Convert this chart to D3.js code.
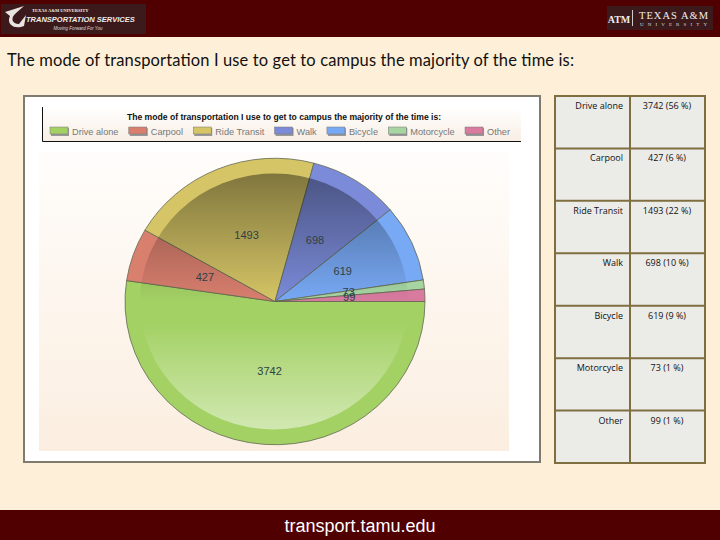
<!DOCTYPE html>
<html>
<head>
<meta charset="utf-8">
<script src="https://cdn.jsdelivr.net/npm/d3@7"></script>
<style>
  html, body { margin: 0; padding: 0; background: #fef0d8; }
  svg { display: block; }
</style>
</head>
<body>
<script>
const categories = ['Drive alone', 'Carpool', 'Ride Transit', 'Walk', 'Bicycle', 'Motorcycle', 'Other'];
const values = [3742, 427, 1493, 698, 619, 73, 99];
const percents = [56, 6, 22, 10, 9, 1, 1];
const colors = ['#a3d164', '#d97f6e', '#d5c566', '#7b8bd9', '#78a9f5', '#a6d5a2', '#d87b9e'];
const title = 'The mode of transportation I use to get to campus the majority of the time is:';

const maroon = '#500000';
const svg = d3.select('body').append('svg').attr('width', 720).attr('height', 540);
const defs = svg.append('defs');

function gradient(id, stops) {
  const g = defs.append('linearGradient').attr('id', id)
    .attr('x1', 0).attr('y1', 0).attr('x2', 0).attr('y2', 1);
  stops.forEach(s => g.append('stop').attr('offset', s[0])
    .attr('stop-color', s[1]).attr('stop-opacity', s[2]));
}
gradient('plotBg', [[0, '#fffdfb', 1], [1, '#fbeee0', 1]]);
gradient('legendBg', [[0, '#ffffff', 1], [1, '#f8eee4', 1]]);
gradient('gloss', [[0, '#000000', 0.4], [0.5, '#000000', 0], [0.58, '#ffffff', 0], [1, '#ffffff', 0.5]]);

// header and footer
svg.append('rect').attr('width', 720).attr('height', 37).attr('fill', maroon);
svg.append('rect').attr('y', 510).attr('width', 720).attr('height', 30).attr('fill', maroon);
svg.append('text').attr('x', 360).attr('y', 532).attr('text-anchor', 'middle')
  .attr('font-family', 'Liberation Sans').attr('font-size', 18).attr('fill', '#fff')
  .text('transport.tamu.edu');

// left logo
const logoL = svg.append('g');
logoL.append('rect').attr('x', 1).attr('y', 4).attr('width', 145).attr('height', 30).attr('fill', '#3c1a1c');
logoL.append('path').attr('d', 'M5 12 L24 6 L16 13 C10 18 12 24 19 24 L26 15 L24 26 C14 30 6 24 10 16 Z')
  .attr('fill', '#e8e4e0');
logoL.append('text').attr('x', 32).attr('y', 12).attr('font-family', 'Liberation Serif')
  .attr('font-size', 4.5).attr('font-weight', 'bold').attr('fill', '#eee').text('TEXAS A&M UNIVERSITY');
logoL.append('text').attr('x', 26).attr('y', 22).attr('font-family', 'Liberation Sans')
  .attr('font-size', 7.5).attr('font-style', 'italic').attr('font-weight', 'bold').attr('fill', '#eee')
  .text('TRANSPORTATION SERVICES');
logoL.append('text').attr('x', 78).attr('y', 30).attr('text-anchor', 'middle').attr('font-family', 'Liberation Sans')
  .attr('font-size', 4.5).attr('font-style', 'italic').attr('fill', '#ddd').text('Moving Forward For You');

// right logo
const logoR = svg.append('g');
logoR.append('rect').attr('x', 607).attr('y', 6).attr('width', 106).attr('height', 24).attr('fill', '#3c1a1c');
logoR.append('text').attr('x', 619).attr('y', 23).attr('text-anchor', 'middle').attr('font-family', 'Liberation Serif')
  .attr('font-size', 10).attr('font-weight', 'bold').attr('fill', '#eee').text('ATM');
logoR.append('rect').attr('x', 632).attr('y', 10).attr('width', 1).attr('height', 16).attr('fill', '#ccc');
logoR.append('text').attr('x', 639).attr('y', 19).attr('font-family', 'Liberation Serif')
  .attr('font-size', 10.5).attr('fill', '#eee').attr('textLength', 69).text('TEXAS A&M');
logoR.append('text').attr('x', 640).attr('y', 26).attr('font-family', 'Liberation Serif')
  .attr('font-size', 5).attr('fill', '#ddd').attr('textLength', 67).text('UNIVERSITY');

// slide title
svg.append('text').attr('x', 7).attr('y', 66).attr('font-family', 'Lato')
  .attr('font-size', 16.5).attr('fill', '#111')
  .attr('textLength', 567).attr('lengthAdjust', 'spacing').text(title);

// chart card
svg.append('rect').attr('x', 24).attr('y', 96).attr('width', 516).attr('height', 366)
  .attr('fill', '#fff').attr('stroke', '#7f7b6f').attr('stroke-width', 2);
svg.append('rect').attr('x', 39).attr('y', 152).attr('width', 470).attr('height', 299).attr('fill', 'url(#plotBg)');

// legend box
svg.append('rect').attr('x', 42).attr('y', 107).attr('width', 479).attr('height', 34).attr('fill', 'url(#legendBg)');
svg.append('path').attr('d', 'M42.5 107 V141.5 H521').attr('fill', 'none').attr('stroke', '#111');
svg.append('text').attr('x', 284).attr('y', 120).attr('text-anchor', 'middle')
  .attr('font-family', 'Liberation Sans').attr('font-size', 8.6).attr('font-weight', 'bold')
  .attr('fill', '#111').text(title);

const legendY = 127;
const swatch = 18;
const legend = svg.append('g').selectAll('g').data(categories).enter().append('g');
legend.append('rect').attr('x', 1).attr('y', legendY + 1).attr('width', swatch).attr('height', 8).attr('fill', '#999');
legend.append('rect').attr('y', legendY).attr('width', swatch).attr('height', 7)
  .attr('fill', (d, i) => colors[i]).attr('stroke', '#777').attr('stroke-width', 0.5);
legend.append('text').attr('x', swatch + 4).attr('y', legendY + 8)
  .attr('font-family', 'Liberation Sans').attr('font-size', 9.2).attr('fill', '#777').text(d => d);

// lay the legend out from measured text widths so it spans 50..510
const widths = legend.select('text').nodes().map(n => swatch + 4 + n.getComputedTextLength());
const gap = (460 - d3.sum(widths)) / (categories.length - 1);
let legendX = 50;
legend.attr('transform', (d, i) => {
  const t = `translate(${legendX},0)`;
  legendX += widths[i] + gap;
  return t;
});

// pie
const cx = 275, cy = 301.5, r = 150, squash = 0.955;
const pie = d3.pie().sort(null).startAngle(Math.PI / 2).endAngle(Math.PI * 2.5);
const arc = d3.arc().innerRadius(0).outerRadius(r);
const slices = pie(values);

const plot = svg.append('g').attr('transform', `translate(${cx},${cy}) scale(1,${squash})`);
plot.selectAll('path').data(slices).enter().append('path')
  .attr('d', arc)
  .attr('fill', (d, i) => colors[i])
  .attr('stroke', '#5f6650')
  .attr('stroke-width', 0.8);

plot.append('circle').attr('cx', -1).attr('r', 134).attr('fill', 'url(#gloss)');

svg.append('g').selectAll('text').data(slices).enter().append('text')
  .attr('x', d => cx + arc.centroid(d)[0] * 0.99)
  .attr('y', d => cy + arc.centroid(d)[1] * squash * 0.99 + 2.5)
  .attr('text-anchor', 'middle')
  .attr('font-family', 'Liberation Sans').attr('font-size', 11)
  .attr('fill', '#2f3f45')
  .text(d => d.value);

// table on the right
const rows = d3.scaleBand().domain(categories).range([96, 463]);
const tableLeft = 555, tableSplit = 630, tableRight = 705;
const table = svg.append('g');
table.append('rect').attr('x', tableLeft).attr('y', 96).attr('width', tableRight - tableLeft).attr('height', 367)
  .attr('fill', '#ebebe8').attr('stroke', '#7f6f40').attr('stroke-width', 2);
table.selectAll('line.row').data(categories.slice(1)).enter().append('line')
  .attr('class', 'row')
  .attr('x1', tableLeft).attr('x2', tableRight)
  .attr('y1', d => rows(d)).attr('y2', d => rows(d))
  .attr('stroke', '#7f6f40').attr('stroke-width', 2);
table.append('line').attr('x1', tableSplit).attr('x2', tableSplit).attr('y1', 96).attr('y2', 463)
  .attr('stroke', '#7f6f40').attr('stroke-width', 2);

table.selectAll('text.cat').data(categories).enter().append('text')
  .attr('class', 'cat')
  .attr('x', 623).attr('y', d => rows(d) + 13)
  .attr('text-anchor', 'end').attr('font-family', 'Open Sans').attr('font-size', 9).attr('fill', '#111')
  .text(d => d);
table.selectAll('text.val').data(categories).enter().append('text')
  .attr('class', 'val')
  .attr('x', 667).attr('y', d => rows(d) + 13)
  .attr('text-anchor', 'middle').attr('font-family', 'Open Sans').attr('font-size', 9).attr('fill', '#111')
  .text((d, i) => `${values[i]} (${percents[i]} %)`);
</script>
</body>
</html>
